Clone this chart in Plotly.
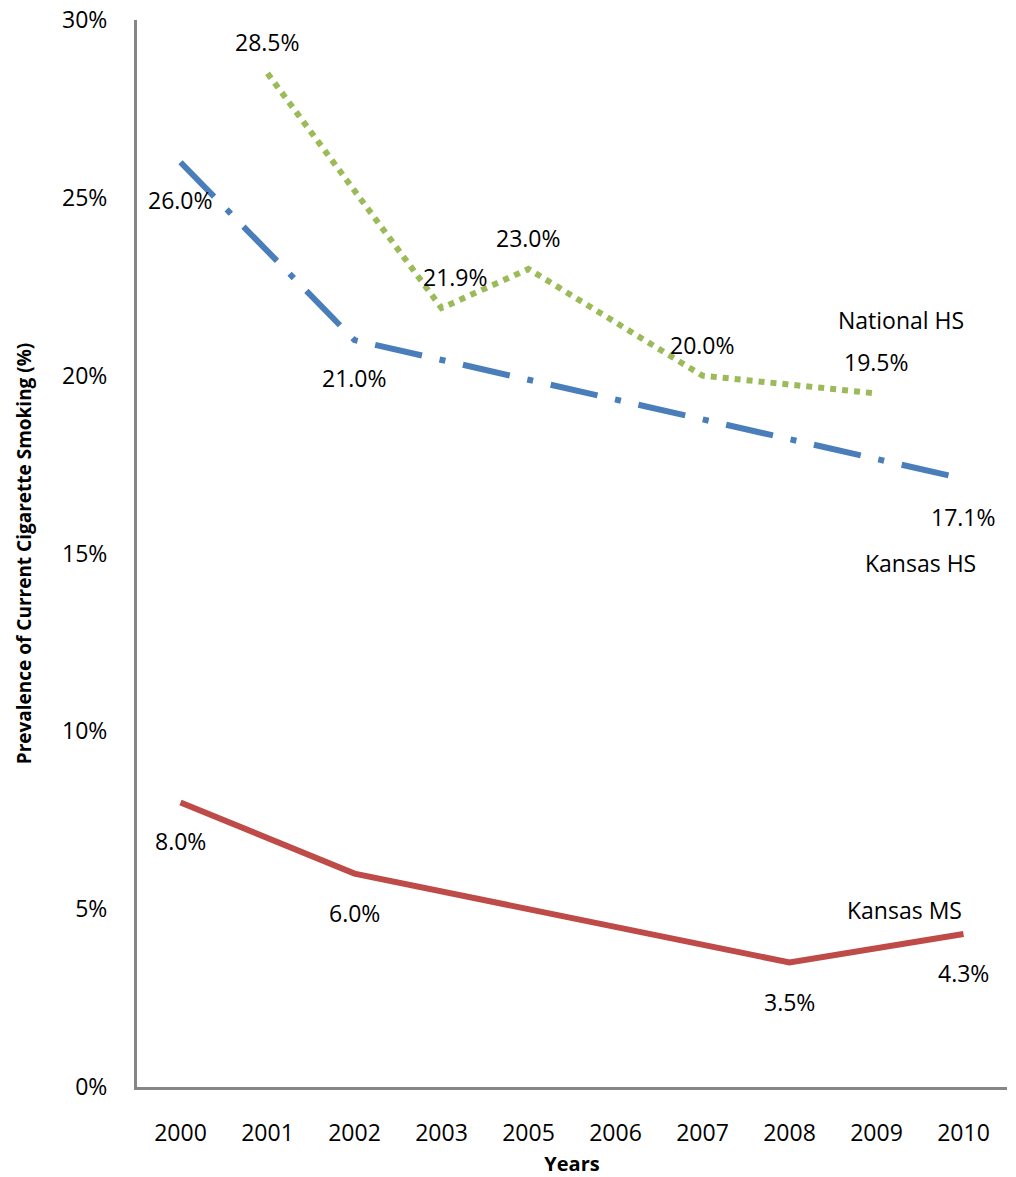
import plotly.graph_objects as go

# Survey years shown on the category axis
years = ["2000", "2001", "2002", "2003", "2005", "2006", "2007", "2008", "2009", "2010"]

# Prevalence of current cigarette smoking (%), None where not surveyed
national_hs = [None, 28.5, None, 21.9, 23.0, None, 20.0, None, 19.5, None]
kansas_hs = [26.0, None, 21.0, None, None, None, None, None, None, 17.1]
kansas_ms = [8.0, None, 6.0, None, None, None, None, 3.5, None, 4.3]

FONT = "Open Sans"
TXT = 23

fig = go.Figure()

fig.add_trace(go.Scatter(
    x=years, y=national_hs, mode="lines", connectgaps=True, name="National HS",
    line=dict(color="#9bbb59", width=6, dash="dot"),
))
fig.add_trace(go.Scatter(
    x=years, y=kansas_hs, mode="lines", connectgaps=True, name="Kansas HS",
    line=dict(color="#4a7ebb", width=6, dash="48px,18px,6px,18px"),
))
fig.add_trace(go.Scatter(
    x=years, y=kansas_ms, mode="lines", connectgaps=True, name="Kansas MS",
    line=dict(color="#be4b48", width=6),
))

annotations = []


def label_points(values, yshift, xshifts=None):
    # value labels sit at the category index of each surveyed year
    for i, v in enumerate(values):
        if v is None:
            continue
        xs = xshifts.get(years[i], 0) if xshifts else 0
        annotations.append(dict(
            x=i, y=v, xref="x", yref="y", text=f"{v:.1f}%",
            showarrow=False, xshift=xs, yshift=yshift,
            font=dict(family=FONT, size=TXT, color="black"),
        ))


label_points(national_hs, 31, {"2003": 14})
label_points(kansas_hs, -38)
label_points(kansas_ms, -39)


def series_name(text, values, dx, dy):
    idx = max(i for i, v in enumerate(values) if v is not None)
    annotations.append(dict(
        x=idx, y=values[idx], xref="x", yref="y", text=text,
        showarrow=False, xshift=dx, yshift=dy,
        font=dict(family=FONT, size=TXT, color="black"),
    ))


series_name("National HS", national_hs, 24, 73)
series_name("Kansas HS", kansas_hs, -43, -84)
series_name("Kansas MS", kansas_ms, -59, 24)

fig.update_layout(
    width=1016, height=1177,
    margin=dict(l=137, r=9, t=20, b=90, autoexpand=False),
    paper_bgcolor="white", plot_bgcolor="white",
    showlegend=False,
    font=dict(family=FONT, size=TXT, color="black"),
    annotations=annotations,
)

fig.update_xaxes(
    type="category", range=[-0.5, 9.5], automargin=False,
    showgrid=False, zeroline=False,
    showline=True, linecolor="#868686", linewidth=3,
    ticks="", ticklabelstandoff=23,
    tickfont=dict(family=FONT, size=TXT, color="black"),
    title=dict(text="<b>Years</b>", font=dict(family=FONT, size=20, color="black"), standoff=20),
)
fig.update_yaxes(
    range=[0, 30], dtick=5, ticksuffix="%", automargin=False,
    showgrid=False, zeroline=False,
    showline=True, linecolor="#868686", linewidth=3,
    ticks="", ticklabelstandoff=22,
    tickfont=dict(family=FONT, size=TXT, color="black"),
    title=dict(text="<b>Prevalence of Current Cigarette Smoking (%)</b>",
               font=dict(family=FONT, size=19, color="black"), standoff=26),
)

fig.write_html("out.html")
